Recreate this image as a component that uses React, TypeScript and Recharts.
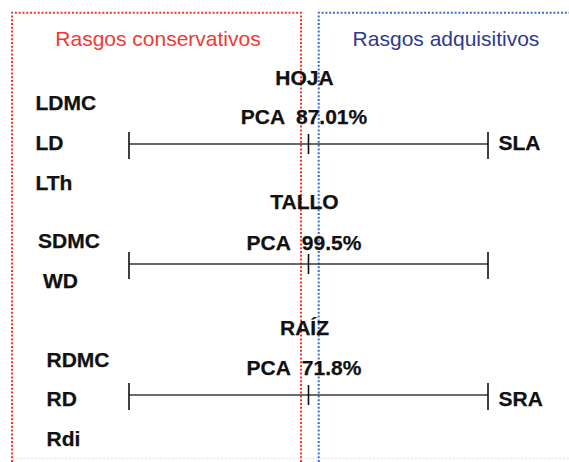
import React from "react"
import { ComposedChart, Line, Scatter, XAxis, YAxis } from "recharts"

// data
const GROUP_LABELS = ["Rasgos conservativos", "Rasgos adquisitivos"]
const ORGANS = ["HOJA", "TALLO", "RAÍZ"]
const PCA_VARIANCE = [87.01, 99.5, 71.8]
const CONSERVATIVE_TRAITS = [
  ["LDMC", "LD", "LTh"],
  ["SDMC", "WD"],
  ["RDMC", "RD", "Rdi"],
]
const ACQUISITIVE_TRAITS = ["SLA", "", "SRA"]
const AXIS_POINTS = [-1, 0, 1]

// layout (pixels)
const W = 569
const H = 462
const AXIS_LEFT = 129
const AXIS_RIGHT = 488
const ROW_LAYOUT = [
  { lineY: 144, title: 85, pca: 124, traitX: [35.5, 35.5, 35.5], traitY: [110, 150, 190], rightY: 150 },
  { lineY: 264, title: 209, pca: 250, traitX: [38, 43], traitY: [248, 288], rightY: 270 },
  { lineY: 395, title: 335, pca: 375, traitX: [46.5, 46.5, 46.5], traitY: [366.5, 405.5, 446], rightY: 405.5 },
]

const RED = "#f03a30"
const BLUE = "#3a6ccf"
const FONT = "Arial, 'Liberation Sans', sans-serif"
const CHART_H = 40

const axisData = AXIS_POINTS.map((pos) => ({ pos, y: 0 }))

function TickMark(props: any) {
  const { cx, cy, payload } = props
  const end = payload.pos !== 0
  return (
    <line
      x1={cx}
      x2={cx}
      y1={cy - (end ? 12 : 10)}
      y2={cy + (end ? 15 : 10)}
      stroke="#111"
      strokeWidth={1.6}
    />
  )
}

function PcaAxis({ top }: { top: number }) {
  return (
    <div style={{ position: "absolute", left: 0, top }}>
      <ComposedChart
        width={W}
        height={CHART_H}
        data={axisData}
        margin={{ top: 0, right: W - AXIS_RIGHT, bottom: 0, left: AXIS_LEFT }}
      >
        <XAxis dataKey="pos" type="number" domain={[-1, 1]} hide />
        <YAxis type="number" domain={[-1, 1]} hide />
        <Line dataKey="y" stroke="#3a3a3a" strokeWidth={1.5} dot={false} isAnimationActive={false} />
        <Scatter dataKey="y" shape={TickMark} isAnimationActive={false} />
      </ComposedChart>
    </div>
  )
}

export default function App() {
  const bold = { fontFamily: FONT, fontWeight: 700, fontSize: 21, fill: "#111", stroke: "#111", strokeWidth: 0.25 }

  return (
    <div style={{ position: "absolute", left: 0, top: 0, width: W, height: H, background: "white", overflow: "hidden" }}>
      {/* dotted group boxes */}
      <svg width={W} height={H} style={{ position: "absolute", left: 0, top: 0 }}>
        <path d="M12,462 V12.7 H301 V462" fill="none" stroke={RED} strokeWidth={2} strokeDasharray="2 1.8" />
        <path d={`M318.7,462 V12.7 H${W}`} fill="none" stroke={BLUE} strokeWidth={2} strokeDasharray="2 1.8" />
        <line x1={12} x2={W} y1={458.5} y2={458.5} stroke="#d8d8d8" strokeWidth={1.5} strokeDasharray="2 1.8" opacity={0.5} />
      </svg>

      {ROW_LAYOUT.map((row, i) => (
        <PcaAxis key={ORGANS[i]} top={row.lineY - CHART_H / 2} />
      ))}

      <svg width={W} height={H} style={{ position: "absolute", left: 0, top: 0, pointerEvents: "none" }}>
        <text x={158} y={45.7} textAnchor="middle" fontFamily={FONT} fontSize={21} fill={RED}>
          {GROUP_LABELS[0]}
        </text>
        <text x={446} y={45.7} textAnchor="middle" fontFamily={FONT} fontSize={21} fill="#2e3b8f">
          {GROUP_LABELS[1]}
        </text>
        {ROW_LAYOUT.map((row, i) => (
          <g key={ORGANS[i]}>
            <text x={304.5} y={row.title} textAnchor="middle" {...bold}>
              {ORGANS[i]}
            </text>
            <text x={304} y={row.pca} textAnchor="middle" {...bold} style={{ whiteSpace: "pre" }}>
              {`PCA  ${PCA_VARIANCE[i]}%`}
            </text>
            {CONSERVATIVE_TRAITS[i].map((t, j) => (
              <text key={t} x={row.traitX[j]} y={row.traitY[j]} {...bold}>
                {t}
              </text>
            ))}
            {ACQUISITIVE_TRAITS[i] && (
              <text x={498.5} y={row.rightY} {...bold}>
                {ACQUISITIVE_TRAITS[i]}
              </text>
            )}
          </g>
        ))}
      </svg>
    </div>
  )
}
